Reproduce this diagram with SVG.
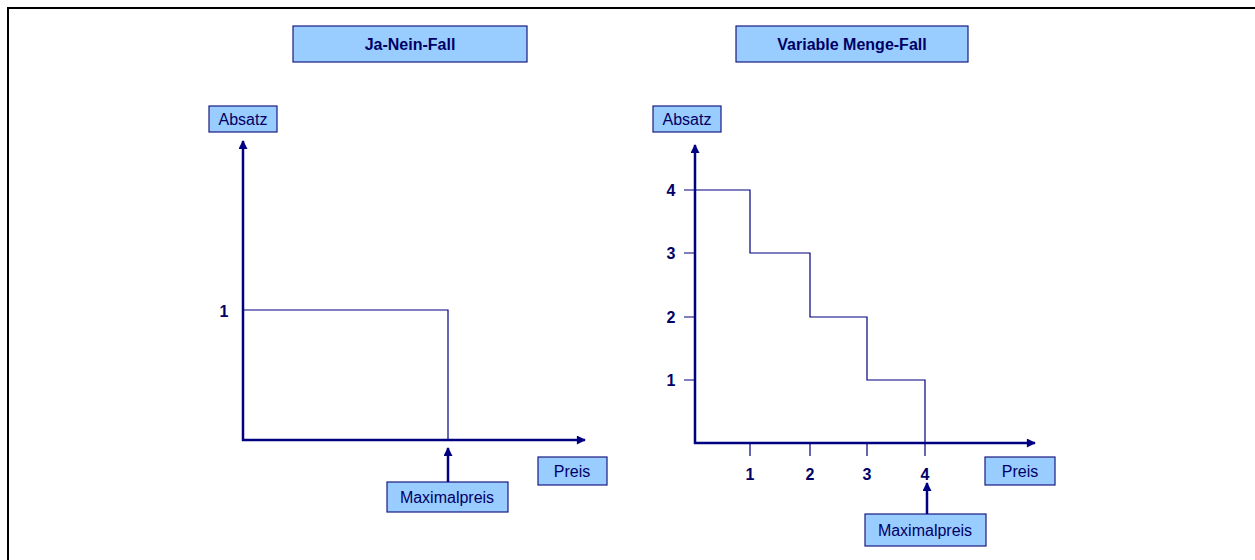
<svg xmlns="http://www.w3.org/2000/svg" width="1255" height="560" viewBox="0 0 1255 560">
  <style>
    .box { fill: #99ccff; stroke: #1a1a80; stroke-width: 1.2; }
    .title { font-family: "Liberation Sans", Arial, sans-serif; font-size: 16px; font-weight: bold; fill: #000066; text-anchor: middle; }
    .lbl { font-family: "Liberation Sans", Arial, sans-serif; font-size: 16px; fill: #000066; text-anchor: middle; }
    .num { font-family: "Liberation Sans", Arial, sans-serif; font-size: 16px; font-weight: bold; fill: #000066; text-anchor: middle; }
    .axis { stroke: #000080; stroke-width: 2.5; fill: none; }
    .thin { stroke: #000080; stroke-width: 1.2; fill: none; }
  </style>
  <defs>
    <marker id="arrow" viewBox="0 0 10 10" refX="9" refY="5" markerWidth="4" markerHeight="3.6" orient="auto">
      <path d="M0,0 L10,5 L0,10 z" fill="#000080"/>
    </marker>
  </defs>

  <rect x="0" y="0" width="1255" height="560" fill="#ffffff"/>
  <!-- frame -->
  <path d="M8,562 L8,8 L1262,8" fill="none" stroke="#000000" stroke-width="2"/>

  <!-- headings -->
  <g id="title-ja-nein">
    <rect class="box" x="293" y="26" width="234" height="36"/>
    <text class="title" x="410" y="50">Ja-Nein-Fall</text>
  </g>
  <g id="title-variable">
    <rect class="box" x="736" y="26" width="232" height="36"/>
    <text class="title" x="852" y="50">Variable Menge-Fall</text>
  </g>

  <!-- left chart labels -->
  <g id="absatz-left">
    <rect class="box" x="209" y="106" width="68" height="26"/>
    <text class="lbl" x="243" y="125">Absatz</text>
  </g>
  <g id="preis-left">
    <rect class="box" x="538" y="457" width="69" height="28"/>
    <text class="lbl" x="572" y="477">Preis</text>
  </g>
  <g id="maxpreis-left">
    <rect class="box" x="387" y="482" width="121" height="30"/>
    <text class="lbl" x="447" y="503">Maximalpreis</text>
  </g>
  <g id="tick-left">
    <text class="num" x="224" y="317">1</text>
  </g>

  <!-- right chart labels -->
  <g id="absatz-right">
    <rect class="box" x="653" y="106" width="68" height="26"/>
    <text class="lbl" x="687" y="125">Absatz</text>
  </g>
  <g id="preis-right">
    <rect class="box" x="985" y="457" width="70" height="28"/>
    <text class="lbl" x="1020" y="477">Preis</text>
  </g>
  <g id="maxpreis-right">
    <rect class="box" x="865" y="514" width="121" height="32"/>
    <text class="lbl" x="925" y="536">Maximalpreis</text>
  </g>
  <g id="ticks-right">
    <text class="num" x="671" y="196">4</text>
    <text class="num" x="671" y="259">3</text>
    <text class="num" x="671" y="323">2</text>
    <text class="num" x="671" y="386">1</text>
    <text class="num" x="750" y="480">1</text>
    <text class="num" x="810" y="480">2</text>
    <text class="num" x="867" y="480">3</text>
    <text class="num" x="925" y="480">4</text>
  </g>

  <g id="connectors">
    <!-- left chart axes -->
    <line class="axis" x1="243" y1="441" x2="243" y2="141" marker-end="url(#arrow)"/>
    <line class="axis" x1="242" y1="440" x2="585" y2="440" marker-end="url(#arrow)"/>
    <!-- left demand curve -->
    <path class="thin" d="M243,310 L448,310 L448,440"/>
    <line class="axis" x1="448" y1="482" x2="448" y2="448" marker-end="url(#arrow)"/>

    <!-- right chart axes -->
    <line class="axis" x1="695" y1="444" x2="695" y2="145" marker-end="url(#arrow)"/>
    <line class="axis" x1="694" y1="443" x2="1035" y2="443" marker-end="url(#arrow)"/>
    <!-- y ticks -->
    <path class="thin" d="M684,190 H695 M684,253 H695 M684,317 H695 M684,380 H695"/>
    <!-- x ticks -->
    <path class="thin" d="M750,443 V456 M810,443 V456 M867,443 V456 M925,443 V456"/>
    <!-- staircase demand -->
    <path class="thin" d="M695,190 H750 V253 H810 V317 H867 V380 H925 V443"/>
    <line class="axis" x1="927" y1="514" x2="927" y2="483" marker-end="url(#arrow)"/>
  </g>
</svg>
